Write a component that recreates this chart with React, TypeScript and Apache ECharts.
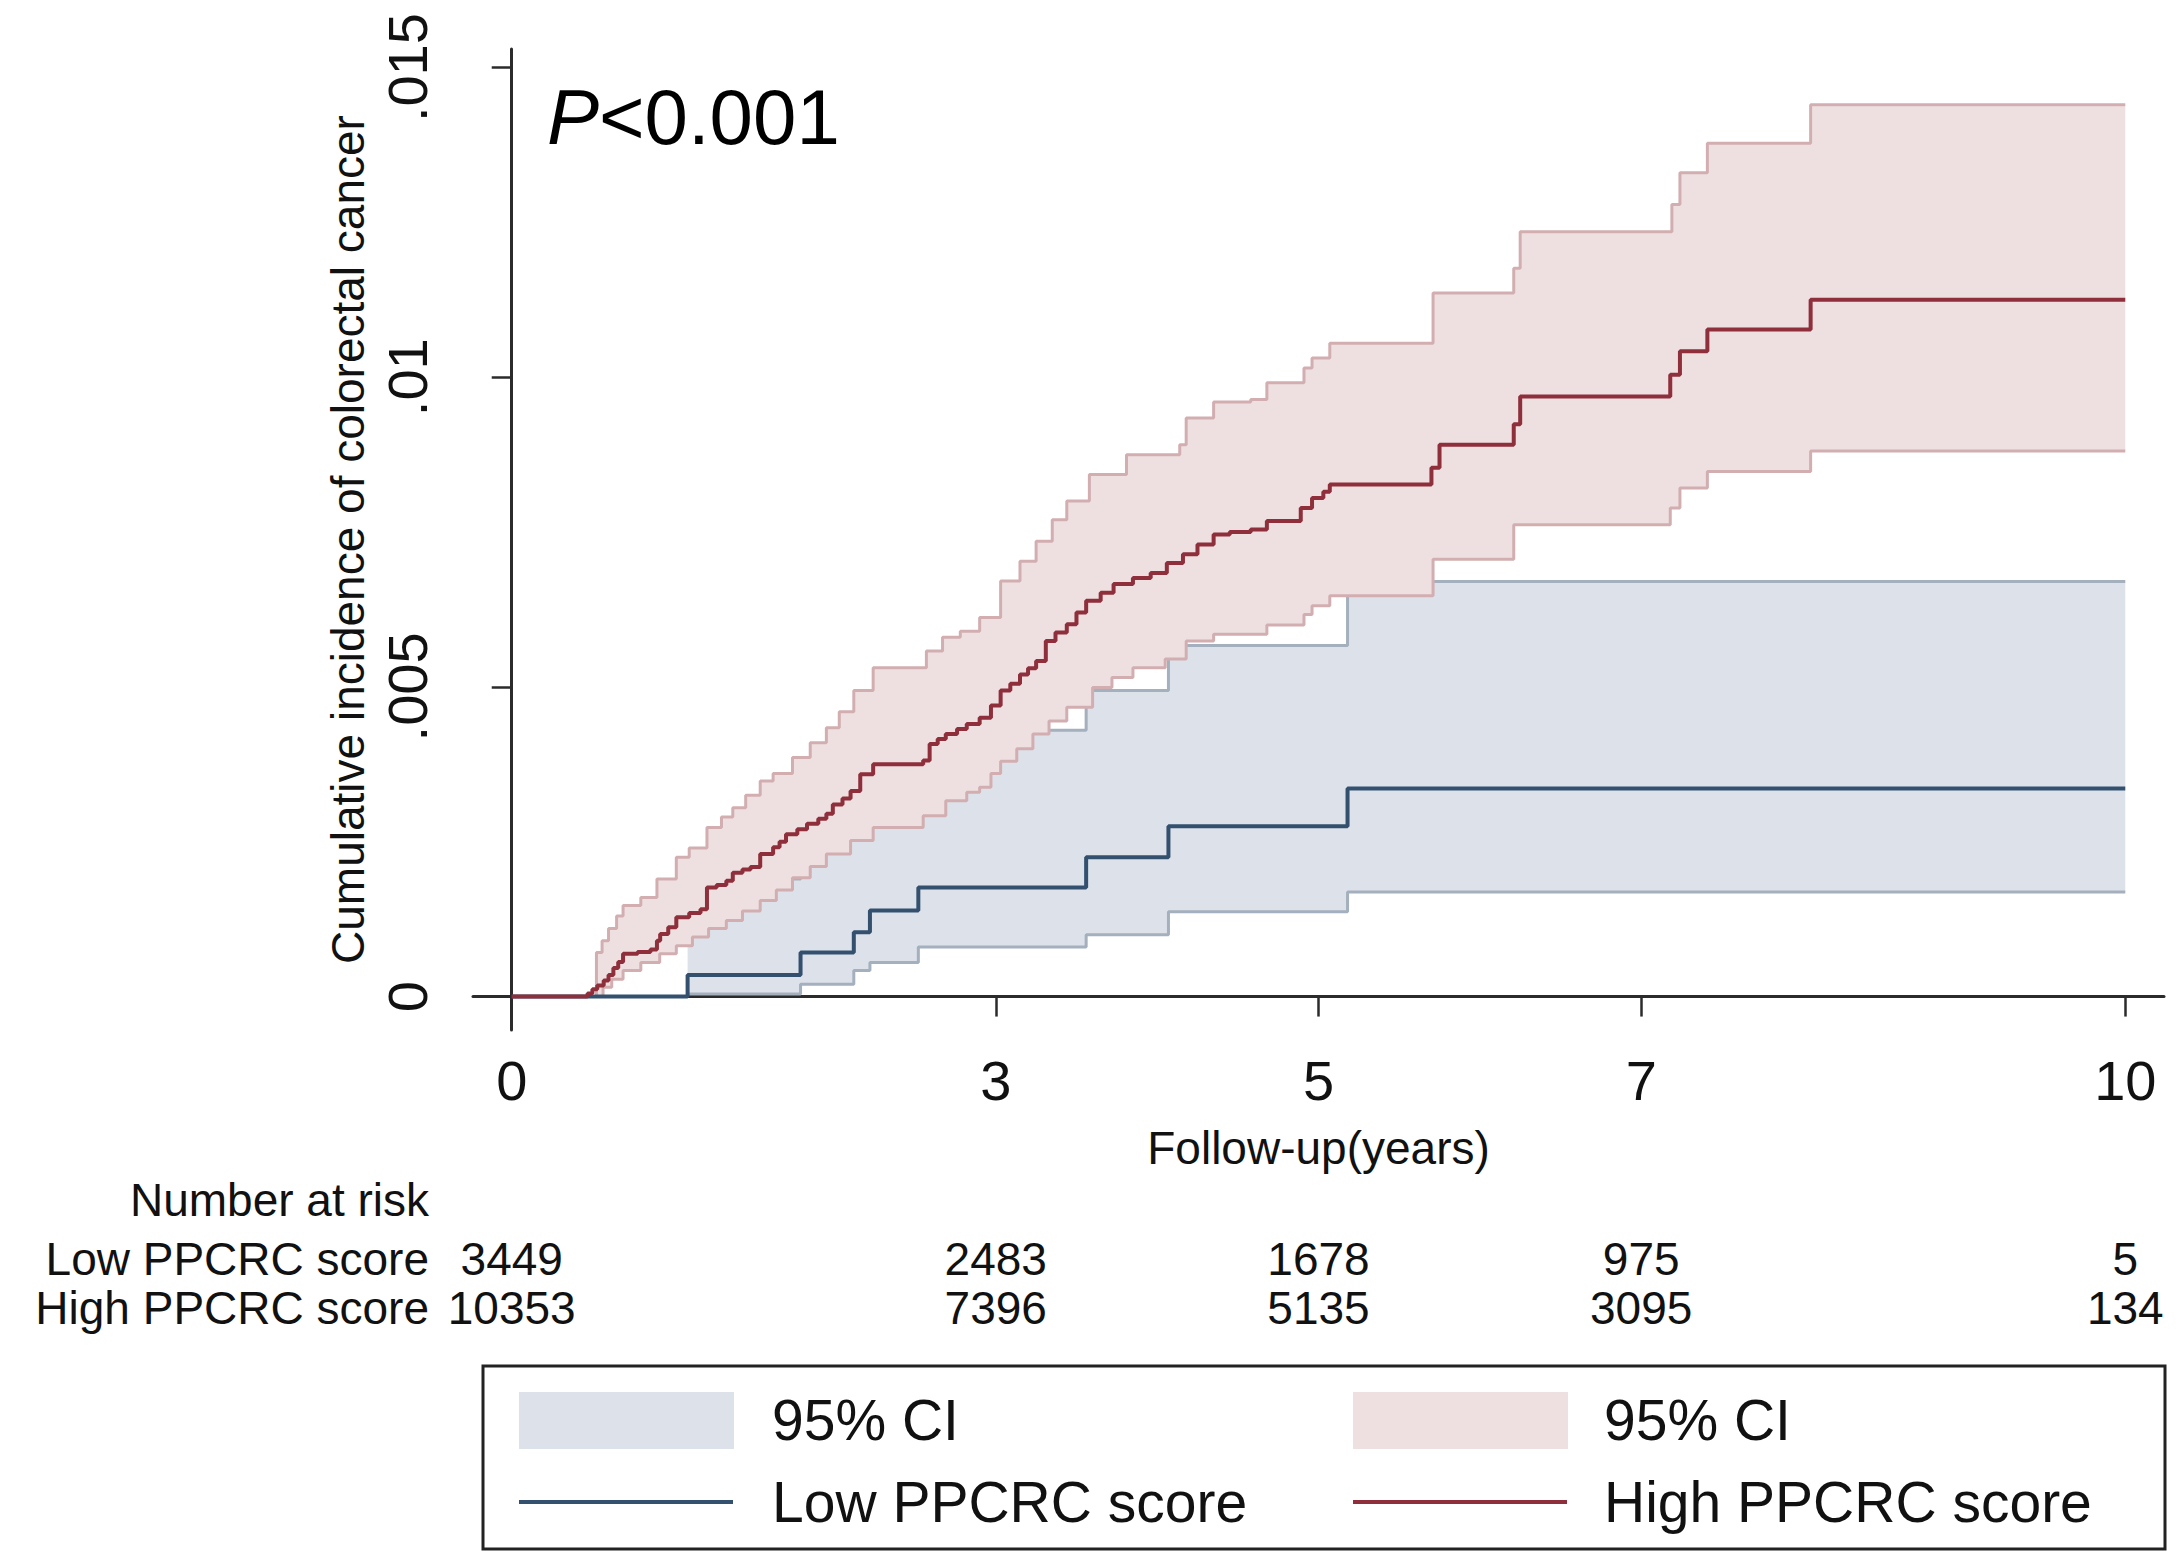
import React, { useEffect, useRef } from "react";
import * as echarts from "echarts";

// ---------- data ----------
const xTicks = [0, 3, 5, 7, 10];
const yTicks = [0, 0.005, 0.01, 0.015];
const yTickLabels = ["0", ".005", ".01", ".015"];

const riskTimes = [0, 3, 5, 7, 10];
const riskLow = [3449, 2483, 1678, 975, 5];
const riskHigh = [10353, 7396, 5135, 3095, 134];

// Low PPCRC score: Kaplan-Meier cumulative incidence (step changes: [year, value])
const lowEst: [number, number][] = [
  [0, 0], [1.09, 0.00035], [1.79, 0.00071], [2.12, 0.00104], [2.22, 0.00139],
  [2.52, 0.00176], [3.56, 0.00225], [4.07, 0.00275], [5.18, 0.00336], [10, 0.00336],
];
const lowLo: [number, number][] = [
  [1.09, 0.00004], [1.79, 0.0002], [2.12, 0.00042], [2.22, 0.00055], [2.52, 0.0008],
  [3.56, 0.001], [4.07, 0.00137], [5.18, 0.00169], [10, 0.00169],
];
const lowHi: [number, number][] = [
  [1.09, 0.0019], [1.79, 0.0027], [2.12, 0.0032], [2.22, 0.0036], [2.52, 0.0043],
  [3.56, 0.00494], [4.07, 0.00567], [5.18, 0.0067], [10, 0.0067],
];

// High PPCRC score
const highEst: [number, number][] = [
  [0, 0], [0.47, 0.00005], [0.5, 0.00012], [0.53, 0.00018], [0.57, 0.00026], [0.6, 0.00035],
  [0.63, 0.00046], [0.66, 0.00056], [0.69, 0.00069], [0.78, 0.00072], [0.86, 0.00076],
  [0.9, 0.0009], [0.92, 0.00101], [0.97, 0.00112], [1.02, 0.00128], [1.1, 0.00135],
  [1.17, 0.00141], [1.21, 0.00176], [1.27, 0.0018], [1.33, 0.00187], [1.37, 0.002],
  [1.43, 0.00205], [1.48, 0.00209], [1.54, 0.0023], [1.62, 0.00241], [1.66, 0.0025],
  [1.7, 0.00262], [1.77, 0.0027], [1.83, 0.00279], [1.9, 0.00287], [1.95, 0.00295],
  [1.99, 0.0031], [2.05, 0.0032], [2.1, 0.00332], [2.16, 0.00359], [2.24, 0.00375],
  [2.55, 0.00381], [2.59, 0.00408], [2.64, 0.00416], [2.69, 0.00424], [2.76, 0.00432],
  [2.82, 0.0044], [2.9, 0.0045], [2.97, 0.0047], [3.03, 0.00494], [3.09, 0.00505],
  [3.15, 0.0052], [3.2, 0.0053], [3.25, 0.00542], [3.31, 0.00574], [3.37, 0.00588],
  [3.44, 0.00601], [3.5, 0.0062], [3.56, 0.00639], [3.65, 0.00652], [3.73, 0.00666],
  [3.85, 0.00676], [3.96, 0.00684], [4.06, 0.007], [4.16, 0.00714], [4.25, 0.0073],
  [4.35, 0.00746], [4.45, 0.0075], [4.58, 0.00754], [4.68, 0.00768], [4.89, 0.00789],
  [4.96, 0.00805], [5.03, 0.00815], [5.07, 0.00827], [5.7, 0.00854], [5.75, 0.00891],
  [6.21, 0.00924], [6.25, 0.00969], [7.18, 0.01004], [7.24, 0.01042], [7.41, 0.01077],
  [8.05, 0.01125], [10, 0.01125],
];
const highHi: [number, number][] = [
  [0.49, 0], [0.525, 0.00071], [0.56, 0.0009], [0.6, 0.0011], [0.65, 0.0013], [0.69, 0.00147],
  [0.8, 0.0016], [0.9, 0.0019], [1.02, 0.00225], [1.1, 0.0024], [1.21, 0.00273],
  [1.3, 0.0029], [1.37, 0.00305], [1.45, 0.00325], [1.54, 0.00348], [1.62, 0.0036],
  [1.74, 0.00386], [1.85, 0.0041], [1.95, 0.00434], [2.03, 0.0046], [2.12, 0.00494],
  [2.24, 0.00531], [2.57, 0.00558], [2.67, 0.0058], [2.78, 0.0059], [2.9, 0.00612],
  [3.03, 0.00671], [3.15, 0.00703], [3.25, 0.00735], [3.35, 0.0077], [3.44, 0.008],
  [3.58, 0.00843], [3.81, 0.00875], [4.14, 0.00891], [4.18, 0.00934], [4.35, 0.0096],
  [4.58, 0.00964], [4.68, 0.00991], [4.91, 0.01015], [4.96, 0.01031], [5.07, 0.01055],
  [5.71, 0.01136], [6.21, 0.01176], [6.25, 0.01235], [7.19, 0.01279], [7.24, 0.0133],
  [7.41, 0.01378], [8.05, 0.0144], [10, 0.0144],
];
const highLo: [number, number][] = [
  [0.49, 0], [0.566, 0.00015], [0.62, 0.00028], [0.69, 0.00042], [0.8, 0.00055],
  [0.917, 0.00069], [1.02, 0.00082], [1.12, 0.00096], [1.22, 0.0011], [1.33, 0.00123],
  [1.43, 0.00138], [1.54, 0.00155], [1.64, 0.00172], [1.74, 0.00192], [1.85, 0.0021],
  [1.95, 0.0023], [2.1, 0.00252], [2.24, 0.00273], [2.55, 0.00292], [2.69, 0.00316],
  [2.82, 0.0033], [2.9, 0.00338], [2.97, 0.0036], [3.03, 0.0038], [3.13, 0.004],
  [3.23, 0.00424], [3.33, 0.00445], [3.44, 0.00467], [3.6, 0.00499], [3.72, 0.00515],
  [3.85, 0.00531], [4.05, 0.00545], [4.18, 0.00574], [4.35, 0.00585], [4.68, 0.006],
  [4.91, 0.00617], [4.96, 0.00631], [5.07, 0.00647], [5.71, 0.00706], [6.21, 0.00762],
  [7.18, 0.00789], [7.24, 0.00821], [7.41, 0.00848], [8.05, 0.00881], [10, 0.00881],
];

// ---------- styling ----------
const FONT = "'Liberation Sans', Arial, Helvetica, sans-serif";
const BAND_BLUE = "#dde2ea";
const BAND_RED = "#eee0e1";
const CI_BLUE = "#a4b0be";
const CI_RED = "#d2aeb1";
const EST_BLUE = "#33506f";
const EST_RED = "#8e2f3b";
const AXIS = "#2b2b2b";
const TXT = "#111";

const near = (a: number, b: number) => Math.abs(a - b) < 1e-9;

function bandSeries(name: string, upper: [number, number][], lower: [number, number][], fill: string, z: number) {
  return {
    type: "custom",
    name,
    z,
    silent: true,
    coordinateSystem: "cartesian2d",
    data: [[upper[0][0], upper[0][1]]],
    renderItem: (_params: any, api: any) => {
      const pts: number[][] = [];
      for (let i = 0; i < upper.length; i++) {
        pts.push(api.coord(upper[i]));
        if (i < upper.length - 1) pts.push(api.coord([upper[i + 1][0], upper[i][1]]));
      }
      for (let i = lower.length - 1; i >= 0; i--) {
        pts.push(api.coord(lower[i]));
        if (i > 0) pts.push(api.coord([lower[i][0], lower[i - 1][1]]));
      }
      return { type: "polygon", shape: { points: pts }, style: { fill, stroke: null } };
    },
  };
}

function stepLine(name: string, data: [number, number][], color: string, width: number, z: number) {
  return {
    type: "line",
    name,
    z,
    step: "end",
    data,
    showSymbol: false,
    symbol: "none",
    silent: true,
    lineStyle: { color, width },
  };
}

function riskAxis(name: string, values: number[], offset: number) {
  return {
    type: "value",
    gridIndex: 0,
    position: "bottom",
    offset,
    min: -0.24,
    max: 10.24,
    name,
    nameLocation: "start",
    nameGap: 44,
    nameTextStyle: { fontSize: 46, color: TXT, fontFamily: FONT, align: "right", verticalAlign: "middle" },
    axisLine: { show: false },
    axisTick: { show: false },
    splitLine: { show: false },
    axisLabel: {
      customValues: riskTimes,
      margin: 0,
      fontSize: 46,
      color: TXT,
      fontFamily: FONT,
      verticalAlign: "middle",
      formatter: (v: number) => {
        const i = riskTimes.findIndex((t) => near(t, v));
        return i >= 0 ? String(values[i]) : "";
      },
    },
  };
}

export default function App() {
  const ref = useRef<HTMLDivElement>(null);
  useEffect(() => {
    if (!ref.current) return;
    const chart = echarts.init(ref.current, null, { renderer: "svg" });
    chart.setOption({
      animation: false,
      backgroundColor: "#ffffff",
      textStyle: { fontFamily: FONT },
      grid: { left: 473, right: 18, top: 49, bottom: 523, containLabel: false, outerBoundsMode: "none" },
      xAxis: [
        {
          type: "value",
          min: -0.24,
          max: 10.24,
          name: "Follow-up(years)",
          nameLocation: "middle",
          nameGap: 95,
          nameTextStyle: { fontSize: 46, color: TXT, fontFamily: FONT },
          axisLine: { show: true, lineStyle: { color: AXIS, width: 3 } },
          axisTick: { show: true, customValues: xTicks, length: 20, lineStyle: { color: AXIS, width: 2.5 } },
          axisLabel: { customValues: xTicks, margin: 22, fontSize: 56, color: TXT, fontFamily: FONT },
          splitLine: { show: false },
        },
        riskAxis("Low PPCRC score", riskLow, 229),
        riskAxis("High PPCRC score", riskHigh, 278),
      ],
      yAxis: {
        type: "value",
        min: -0.00054,
        max: 0.0153,
        name: "Cumulative incidence of colorectal cancer",
        nameLocation: "middle",
        nameGap: 90,
        nameRotate: 90,
        nameTextStyle: { fontSize: 46, color: TXT, fontFamily: FONT },
        axisLine: { show: true, lineStyle: { color: AXIS, width: 3 } },
        axisTick: { show: true, customValues: yTicks, length: 20, lineStyle: { color: AXIS, width: 2.5 } },
        axisLabel: {
          customValues: yTicks,
          rotate: 90,
          margin: 38,
          fontSize: 56,
          color: TXT,
          fontFamily: FONT,
          formatter: (v: number) => {
            const i = yTicks.findIndex((t) => near(t, v));
            return i >= 0 ? yTickLabels[i] : "";
          },
        },
        splitLine: { show: false },
      },
      series: [
        bandSeries("Low 95% CI", lowHi, lowLo, BAND_BLUE, 1),
        stepLine("Low lower", lowLo, CI_BLUE, 3, 2),
        stepLine("Low upper", lowHi, CI_BLUE, 3, 2),
        bandSeries("High 95% CI", highHi, highLo, BAND_RED, 3),
        stepLine("High lower", highLo, CI_RED, 3, 4),
        stepLine("High upper", highHi, CI_RED, 3, 4),
        stepLine("Low PPCRC score", lowEst, EST_BLUE, 4, 5),
        stepLine("High PPCRC score", highEst, EST_RED, 4, 6),
      ],
      graphic: [
        {
          type: "text",
          left: 547,
          top: 78,
          style: {
            text: "{i|P}{n|<0.001}",
            rich: {
              i: { fontSize: 78, fontStyle: "italic", fontFamily: FONT, fill: "#000" },
              n: { fontSize: 78, fontFamily: FONT, fill: "#000" },
            },
          },
        },
        {
          type: "text",
          x: 429,
          y: 1200,
          style: { text: "Number at risk", fontSize: 46, fontFamily: FONT, fill: TXT, align: "right", verticalAlign: "middle" },
        },
        {
          type: "rect",
          shape: { x: 483, y: 1366, width: 1682, height: 183 },
          style: { fill: "#fff", stroke: "#222", lineWidth: 3 },
        },
        { type: "rect", shape: { x: 519, y: 1392, width: 215, height: 57 }, style: { fill: BAND_BLUE } },
        { type: "text", x: 772, y: 1420, style: { text: "95% CI", fontSize: 57, fontFamily: FONT, fill: TXT, verticalAlign: "middle" } },
        { type: "line", shape: { x1: 519, y1: 1502, x2: 733, y2: 1502 }, style: { stroke: EST_BLUE, lineWidth: 4 } },
        { type: "text", x: 772, y: 1502, style: { text: "Low PPCRC score", fontSize: 57, fontFamily: FONT, fill: TXT, verticalAlign: "middle" } },
        { type: "rect", shape: { x: 1353, y: 1392, width: 215, height: 57 }, style: { fill: BAND_RED } },
        { type: "text", x: 1604, y: 1420, style: { text: "95% CI", fontSize: 57, fontFamily: FONT, fill: TXT, verticalAlign: "middle" } },
        { type: "line", shape: { x1: 1353, y1: 1502, x2: 1567, y2: 1502 }, style: { stroke: EST_RED, lineWidth: 4 } },
        { type: "text", x: 1604, y: 1502, style: { text: "High PPCRC score", fontSize: 57, fontFamily: FONT, fill: TXT, verticalAlign: "middle" } },
      ],
    });
    return () => chart.dispose();
  }, []);
  return <div ref={ref} style={{ position: "absolute", left: 0, top: 0, width: 2182, height: 1553 }} />;
}
